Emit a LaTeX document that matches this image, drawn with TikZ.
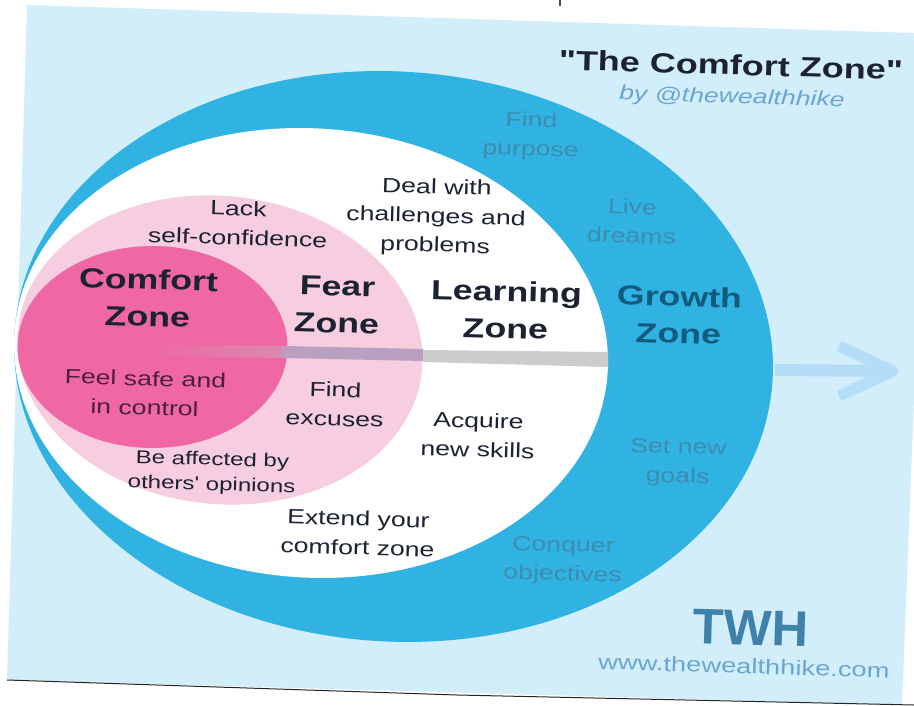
\documentclass[tikz,border=0pt]{standalone}
\usepackage{fontspec}
\setmainfont{Liberation Sans}
\newfontfamily\rawsans{Liberation Sans}
\usetikzlibrary{fadings}
\definecolor{paleblue}{HTML}{D3EEFB}
\definecolor{ringblue}{HTML}{30B2E3}
\definecolor{inktext}{HTML}{1C2230}
\definecolor{maroon}{HTML}{4E1E44}
\definecolor{growthtext}{HTML}{135B7E}
\definecolor{fainttext}{HTML}{3C8DB0}
\definecolor{linktext}{HTML}{6BA6D2}
\definecolor{fearpink}{HTML}{F7CDE0}
\definecolor{comfortpink}{HTML}{EF68A3}
\definecolor{arrowblue}{HTML}{B4DDF8}
\definecolor{barmauve}{HTML}{B9A0C0}
\definecolor{barfaint}{HTML}{D98BB0}
\tikzset{
  label base/.style={transform shape, rotate=-1.7, xscale=1.3, align=center, inner sep=0pt},
  plain label/.style={label base, font=\rawsans\fontsize{20.5}{29}\selectfont, text=inktext},
  zone label/.style={label base, font=\rawsans\fontsize{27.5}{37}\selectfont\bfseries, text=inktext},
  pink label/.style={plain label, text=maroon},
  ring label/.style={plain label, text=fainttext},
}
\begin{document}
\begin{tikzpicture}[x=1pt,y=-1pt]
\useasboundingbox (0,0) rectangle (914,706);
\fill[white] (0,0) rectangle (914,706);
\fill[paleblue] (27,5) -- (914,33) -- (914,400) -- (902,705) -- (7,680) -- cycle;
\draw[black!85, line width=1pt] (7,680) -- (457,695) -- (914,705);
\fill[black!70] (559,0) rectangle (561,6);
% ring
\fill[ringblue, rotate around={-3.65:(393.5,356.5)}] (393.5,356.5) ellipse [x radius=379.8, y radius=285];
% arrow
\coordinate (shaftstart) at (775,370);
\coordinate (arrowtip) at (893,371);
\coordinate (armtop) at (839,346);
\coordinate (armbot) at (839,396);
\draw[arrowblue, line width=12pt] (shaftstart) -- (arrowtip);
\draw[arrowblue, line width=11pt, line join=round] (armtop) -- (arrowtip) -- (armbot);
% learning, fear, comfort
\fill[white, rotate around={-3.84:(311,353)}] (311,353) ellipse [x radius=297.3, y radius=224.6];
\fill[fearpink, rotate around={-6:(220,350)}] (220,350) ellipse [x radius=203, y radius=154];
\fill[comfortpink] (152.5,347) ellipse [x radius=135, y radius=101];
% bar
\fill[barfaint, path fading=west] (147,345) -- (284,346) -- (284,358) -- (147,356) -- cycle;
\fill[barmauve] (283,346) -- (423,349) -- (423,361) -- (283,358) -- cycle;
\fill[black!20] (423,350) -- (608,352) -- (608,367) -- (423,362) -- cycle;
% texts
\node[label base, font=\rawsans\fontsize{27.7}{30}\selectfont\bfseries, text=inktext] (title) at (731,65) {"The Comfort Zone"};
\node[label base, font=\rawsans\fontsize{20.5}{24}\selectfont\itshape, text=linktext] (byline) at (732,98) {by @thewealthhike};
\node[zone label] (comfort) at (148,298) {Comfort\\Zone};
\node[zone label] (fear) at (337,305) {Fear\\Zone};
\node[zone label] (learning) at (506,310) {Learning\\Zone};
\node[zone label, text=growthtext] (growth) at (679,315) {Growth\\Zone};
\node[plain label] (lack) at (238,223) {Lack\\self-confidence};
\node[plain label] (deal) at (436,217.5) {Deal with\\challenges and\\problems};
\node[pink label] (safe) at (145,393) {Feel safe and\\in control};
\node[plain label] (excuses) at (335,404) {Find\\excuses};
\node[label base, font=\rawsans\fontsize{18.5}{25}\selectfont, text=inktext] (opinions) at (212,473) {Be affected by\\others' opinions};
\node[plain label] (extend) at (358,533) {Extend your\\comfort zone};
\node[plain label] (skills) at (478,435) {Acquire\\new skills};
\node[ring label] (purpose) at (531,136) {Find\\purpose};
\node[ring label] (dreams) at (632,221) {Live\\dreams};
\node[ring label] (goals) at (678,463) {Set new\\goals};
\node[ring label] (conquer) at (563,561) {Conquer\\objectives};
\node[label base, xscale=.78, font=\rawsans\fontsize{50}{50}\selectfont\bfseries, text=linktext!50!growthtext] (twh) at (751,628) {TWH};
\node[label base, font=\rawsans\fontsize{21}{24}\selectfont, text=linktext] (url) at (744,666) {www.thewealthhike.com};
\end{tikzpicture}
\end{document}
